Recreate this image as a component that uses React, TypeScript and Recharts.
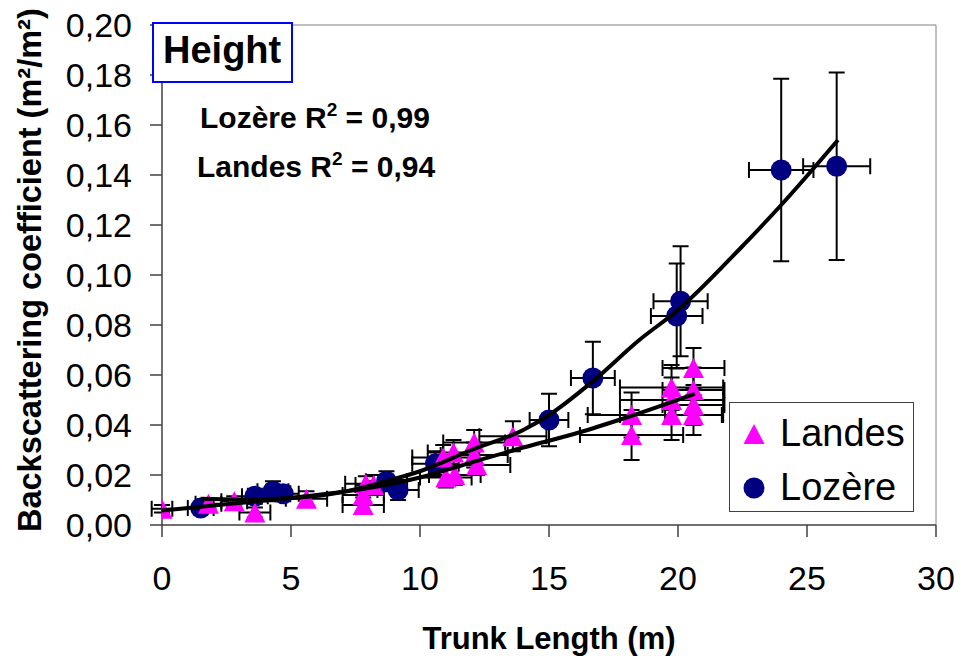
import React from 'react';
import {
  ScatterChart,
  Scatter,
  XAxis,
  YAxis,
  ErrorBar,
  Legend,
  ReferenceLine,
} from 'recharts';

// Landes stands: trunk length (m), backscattering coefficient, x / y error half-widths
const landes = [
  { x: 0, y: 0.0065, ex: 0.4, ey: 0.0015 },
  { x: 1.8, y: 0.0085, ex: 0.5, ey: 0.002 },
  { x: 2.8, y: 0.0095, ex: 0.5, ey: 0.002 },
  { x: 3.6, y: 0.005, ex: 0.6, ey: 0.002 },
  { x: 5.6, y: 0.0105, ex: 0.8, ey: 0.003 },
  { x: 7.8, y: 0.008, ex: 0.8, ey: 0.003 },
  { x: 7.8, y: 0.012, ex: 0.8, ey: 0.003 },
  { x: 8.2, y: 0.016, ex: 0.7, ey: 0.004 },
  { x: 7.9, y: 0.0165, ex: 0.8, ey: 0.003 },
  { x: 11.0, y: 0.019, ex: 1.0, ey: 0.004 },
  { x: 11.35, y: 0.02, ex: 1.0, ey: 0.004 },
  { x: 10.9, y: 0.027, ex: 1.2, ey: 0.005 },
  { x: 11.3, y: 0.029, ex: 1.0, ey: 0.005 },
  { x: 12.1, y: 0.033, ex: 1.2, ey: 0.005 },
  { x: 12.1, y: 0.028, ex: 1.3, ey: 0.005 },
  { x: 12.2, y: 0.024, ex: 1.3, ey: 0.004 },
  { x: 13.6, y: 0.0355, ex: 1.3, ey: 0.006 },
  { x: 18.2, y: 0.044, ex: 1.7, ey: 0.009 },
  { x: 18.2, y: 0.036, ex: 2.0, ey: 0.01 },
  { x: 19.75, y: 0.055, ex: 2.0, ey: 0.009 },
  { x: 19.75, y: 0.05, ex: 2.0, ey: 0.009 },
  { x: 19.75, y: 0.044, ex: 2.0, ey: 0.01 },
  { x: 20.6, y: 0.0628, ex: 1.2, ey: 0.008 },
  { x: 20.6, y: 0.054, ex: 1.2, ey: 0.009 },
  { x: 20.6, y: 0.048, ex: 1.2, ey: 0.008 },
  { x: 20.6, y: 0.044, ex: 1.1, ey: 0.008 },
];

// Lozère stands
const lozere = [
  { x: 1.5, y: 0.0068, ex: 0.5, ey: 0.0015 },
  { x: 3.6, y: 0.0115, ex: 0.5, ey: 0.003 },
  { x: 4.3, y: 0.0135, ex: 0.6, ey: 0.004 },
  { x: 4.7, y: 0.0125, ex: 0.6, ey: 0.003 },
  { x: 8.7, y: 0.0175, ex: 0.8, ey: 0.004 },
  { x: 9.15, y: 0.014, ex: 0.8, ey: 0.004 },
  { x: 10.6, y: 0.0245, ex: 0.9, ey: 0.005 },
  { x: 15.0, y: 0.042, ex: 0.75, ey: 0.0105 },
  { x: 16.7, y: 0.0588, ex: 0.85, ey: 0.0145 },
  { x: 19.95, y: 0.0836, ex: 1.0, ey: 0.021 },
  { x: 20.1, y: 0.0895, ex: 1.05, ey: 0.022 },
  { x: 24.0, y: 0.142, ex: 1.25, ey: 0.0365 },
  { x: 26.15, y: 0.1435, ex: 1.3, ey: 0.0375 },
];

// Fitted trend curves
const lozereTrend = [
  { x: 1.5, y: 0.0105 },
  { x: 3, y: 0.0102 },
  { x: 5, y: 0.0108 },
  { x: 7, y: 0.0132 },
  { x: 8.5, y: 0.017 },
  { x: 10, y: 0.0215 },
  { x: 12, y: 0.03 },
  { x: 14, y: 0.038 },
  { x: 15, y: 0.044 },
  { x: 16.7, y: 0.0575 },
  { x: 18.5, y: 0.074 },
  { x: 20, y: 0.086 },
  { x: 22.4, y: 0.1105 },
  { x: 24, y: 0.128 },
  { x: 26.2, y: 0.154 },
];

const landesTrend = [
  { x: 0, y: 0.0058 },
  { x: 2, y: 0.0078 },
  { x: 4, y: 0.0098 },
  { x: 6, y: 0.012 },
  { x: 8, y: 0.0148 },
  { x: 10, y: 0.019 },
  { x: 12, y: 0.025 },
  { x: 14, y: 0.031 },
  { x: 16, y: 0.0365 },
  { x: 18, y: 0.043 },
  { x: 20.65, y: 0.0525 },
];

const xTicks = [0, 5, 10, 15, 20, 25, 30];
const yTicks = [0, 0.02, 0.04, 0.06, 0.08, 0.1, 0.12, 0.14, 0.16, 0.18, 0.2];

const legendItems = [
  { name: 'Landes', marker: 'triangle' },
  { name: 'Lozère', marker: 'circle' },
];

const FONT = '"Liberation Sans", Arial, Helvetica, sans-serif';
const PINK = '#ff00ff';
const NAVY = '#000080';

const TriangleShape = (props: any) => {
  const { cx, cy } = props;
  if (cx == null || cy == null) return <g />;
  return (
    <path
      d={`M${cx},${cy - 10} L${cx + 10.5},${cy + 10} L${cx - 10.5},${cy + 10} Z`}
      fill={PINK}
    />
  );
};

const CircleShape = (props: any) => {
  const { cx, cy } = props;
  if (cx == null || cy == null) return <g />;
  return <circle cx={cx} cy={cy} r={10.5} fill={NAVY} />;
};

const NoShape = () => <g />;

const XTick = (props: any) => {
  const { x, y, payload } = props;
  return (
    <text x={x} y={y + 53} textAnchor="middle" fontFamily={FONT} fontSize={34} fill="#000">
      {payload.value}
    </text>
  );
};

const YTick = (props: any) => {
  const { x, y, payload } = props;
  return (
    <text x={x - 18} y={y + 12} textAnchor="end" fontFamily={FONT} fontSize={34} fill="#000">
      {Number(payload.value).toFixed(2).replace('.', ',')}
    </text>
  );
};

const XTitle = (props: any) => {
  const vb = props.viewBox || { x: 162, y: 525, width: 774 };
  return (
    <text
      x={vb.x + vb.width / 2}
      y={vb.y + 124}
      textAnchor="middle"
      fontFamily={FONT}
      fontWeight="bold"
      fontSize={31}
      fill="#000"
    >
      Trunk Length (m)
    </text>
  );
};

const YTitle = () => (
  <text
    x={41}
    y={532}
    transform="rotate(-90 41 532)"
    textAnchor="start"
    fontFamily={FONT}
    fontWeight="bold"
    fontSize={32.5}
    fill="#000"
  >
    Backscattering coefficient (m²/m²)
  </text>
);

const LegendBox = () => (
  <div
    style={{
      width: 185,
      height: 110,
      boxSizing: 'border-box',
      border: '1.5px solid #404040',
      background: '#fff',
    }}
  >
    <svg width={182} height={107} style={{ display: 'block' }}>
      {legendItems.map((item, i) => {
        const cy = 31 + i * 54;
        return (
          <g key={item.name}>
            {item.marker === 'triangle' ? (
              <path d={`M24,${cy - 10} L34.5,${cy + 10} L13.5,${cy + 10} Z`} fill={PINK} />
            ) : (
              <circle cx={24} cy={cy} r={10.5} fill={NAVY} />
            )}
            <text x={50} y={cy + 12} fontFamily={FONT} fontSize={38} fill="#000">
              {item.name}
            </text>
          </g>
        );
      })}
    </svg>
  </div>
);

export default function App() {
  return (
    <div style={{ position: 'absolute', left: 0, top: 0, width: 961, height: 664, background: '#fff' }}>
      <ScatterChart width={961} height={664} margin={{ top: 25, right: 25, bottom: 0, left: 0 }}>
        <XAxis
          type="number"
          dataKey="x"
          domain={[0, 30]}
          ticks={xTicks}
          allowDataOverflow
          height={139}
          tickSize={12}
          tickMargin={0}
          tick={<XTick />}
          axisLine={{ stroke: '#404040', strokeWidth: 1.5 }}
          tickLine={{ stroke: '#404040', strokeWidth: 1.5 }}
          label={XTitle}
        />
        <YAxis
          type="number"
          dataKey="y"
          domain={[0, 0.2]}
          ticks={yTicks}
          allowDataOverflow
          width={162}
          tickSize={12}
          tickMargin={0}
          tick={<YTick />}
          axisLine={{ stroke: '#404040', strokeWidth: 1.5 }}
          tickLine={{ stroke: '#404040', strokeWidth: 1.5 }}
          label={YTitle}
        />
        <ReferenceLine y={0.2} stroke="#808080" strokeWidth={1} />
        <ReferenceLine x={30} stroke="#808080" strokeWidth={1} />
        <Scatter name="Lozère" data={lozere} fill={NAVY} shape={CircleShape} isAnimationActive={false}>
          <ErrorBar dataKey="ex" direction="x" width={8} stroke="#000" strokeWidth={2} />
          <ErrorBar dataKey="ey" direction="y" width={8} stroke="#000" strokeWidth={2} />
        </Scatter>
        <Scatter name="Landes" data={landes} fill={PINK} shape={TriangleShape} isAnimationActive={false}>
          <ErrorBar dataKey="ex" direction="x" width={8} stroke="#000" strokeWidth={2} />
          <ErrorBar dataKey="ey" direction="y" width={8} stroke="#000" strokeWidth={2} />
        </Scatter>
        <Scatter
          name="Lozère trend"
          data={lozereTrend}
          shape={NoShape}
          line={{ stroke: '#000', strokeWidth: 4 }}
          lineJointType="monotoneX"
          legendType="none"
          isAnimationActive={false}
        />
        <Scatter
          name="Landes trend"
          data={landesTrend}
          shape={NoShape}
          line={{ stroke: '#000', strokeWidth: 4 }}
          lineJointType="monotoneX"
          legendType="none"
          isAnimationActive={false}
        />
        <Legend
          layout="horizontal"
          verticalAlign="middle"
          align="center"
          content={LegendBox}
          wrapperStyle={{ position: 'absolute', left: 729, top: 402, width: 185, height: 110 }}
        />
      </ScatterChart>

      {/* Panel title and fit statistics */}
      <svg
        width={961}
        height={664}
        style={{ position: 'absolute', left: 0, top: 0, pointerEvents: 'none' }}
      >
        <rect x={153} y={23} width={139} height={59} fill="#fff" stroke="#0000ff" strokeWidth={2} />
        <text x={163} y={63} fontFamily={FONT} fontWeight="bold" fontSize={38} fill="#000">
          Height
        </text>
        <text x={200} y={128} fontFamily={FONT} fontWeight="bold" fontSize={30} fill="#000">
          Lozère R
          <tspan dy={-12} fontSize={19}>2</tspan>
          <tspan dy={12}> = 0,99</tspan>
        </text>
        <text x={197} y={177} fontFamily={FONT} fontWeight="bold" fontSize={30} fill="#000">
          Landes R
          <tspan dy={-12} fontSize={19}>2</tspan>
          <tspan dy={12}> = 0,94</tspan>
        </text>
      </svg>
    </div>
  );
}
